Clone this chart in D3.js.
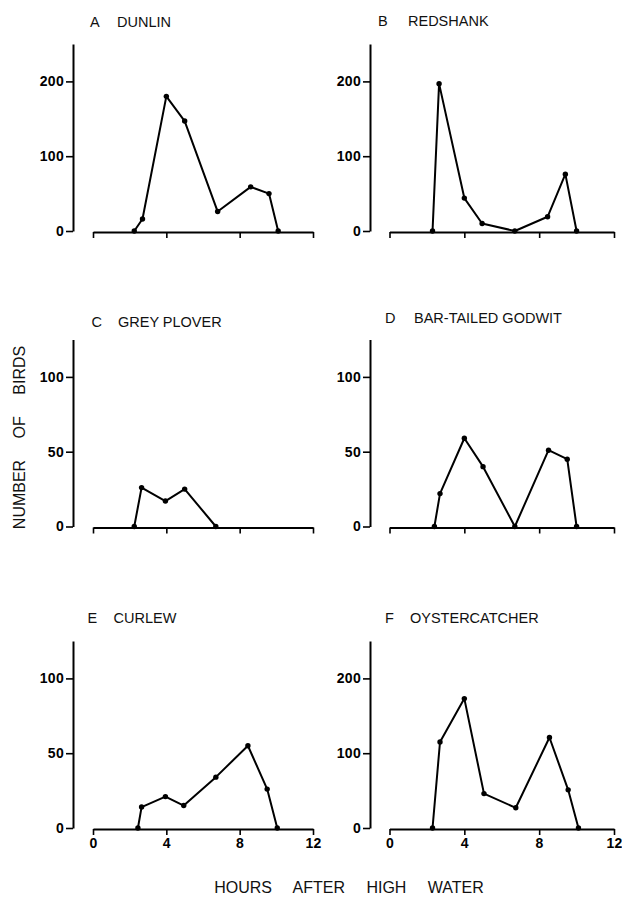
<!DOCTYPE html>
<html>
<head>
<meta charset="utf-8">
<script src="https://cdn.jsdelivr.net/npm/d3@7"></script>
<style>
  body { margin: 0; background: #fff; }
  svg { display: block; font-family: "Liberation Sans", Arial, sans-serif; }
  .title { font-size: 14.5px; fill: #111; }
  .label { font-size: 16px; fill: #111; word-spacing: 17px; }
</style>
</head>
<body>
<div id="chart"></div>
<script>
let width = 622,
    height = 897;

// hours after high water and bird counts
const dunlinHours = [2.25, 2.7, 4, 5, 6.8, 8.6, 9.6, 10.1];
const dunlinCounts = [0, 16, 180, 147, 26, 59, 50, 0];
const redshankHours = [2.3, 2.65, 4, 4.95, 6.7, 8.45, 9.4, 10];
const redshankCounts = [0, 197, 44, 10, 0, 19, 76, 0];
const ploverHours = [2.25, 2.65, 3.95, 5, 6.7];
const ploverCounts = [0, 26, 17, 25, 0];
const godwitHours = [2.4, 2.7, 4, 5, 6.7, 8.5, 9.5, 10];
const godwitCounts = [0, 22, 59, 40, 0, 51, 45, 0];
const curlewHours = [2.45, 2.65, 3.95, 4.95, 6.7, 8.45, 9.5, 10.05];
const curlewCounts = [0, 14, 21, 15, 34, 55, 26, 0];
const oysterHours = [2.3, 2.7, 4, 5.05, 6.75, 8.55, 9.55, 10.1];
const oysterCounts = [0, 115, 173, 46, 27, 121, 51, 0];

const letters = ["A", "B", "C", "D", "E", "F"];
const species = ["DUNLIN", "REDSHANK", "GREY PLOVER", "BAR-TAILED GODWIT", "CURLEW", "OYSTERCATCHER"];
const yMaxes = [250, 250, 125, 125, 125, 250];
const bigTicks = [0, 100, 200];
const smallTicks = [0, 50, 100];
const hourTicks = [0, 4, 8, 12];

const panels = [
  { hours: dunlinHours, counts: dunlinCounts },
  { hours: redshankHours, counts: redshankCounts },
  { hours: ploverHours, counts: ploverCounts },
  { hours: godwitHours, counts: godwitCounts },
  { hours: curlewHours, counts: curlewCounts },
  { hours: oysterHours, counts: oysterCounts }
];

// layout
const cols = [
  { axisX: 73, x0: 93, x1: 313 },
  { axisX: 370, x0: 389.5, x1: 614 }
];
const rowZero = [231, 526.5, 828];
const plotH = 187;
const titlePos = [
  { lx: 90, nx: 117, y: 27 },
  { lx: 378, nx: 408, y: 26 },
  { lx: 91.5, nx: 118, y: 327 },
  { lx: 385, nx: 414, y: 323 },
  { lx: 87.5, nx: 113.5, y: 623 },
  { lx: 385, nx: 410, y: 623 }
];

const svg = d3.select("#chart")
  .append("svg")
  .attr("width", width)
  .attr("height", height)
  .attr("viewBox", [0, 0, width, height]);

// bold, slightly wide tick numbers like the original
function styleAxis(a) {
  a.attr("font-size", 14).attr("font-family", null);
  a.select(".domain").attr("stroke-width", 2);
  a.selectAll(".tick line").attr("stroke-width", 1.6);
  a.selectAll(".tick text")
    .attr("fill", "#000")
    .style("font-size", "14px")
    .style("font-weight", "bold")
    .style("letter-spacing", "0.3px");
}

panels.forEach((p, i) => {
  let col = cols[i % 2],
      row = Math.floor(i / 2),
      zero = rowZero[row];

  let x = d3.scaleLinear()
    .domain([0, 12])
    .range([col.x0, col.x1]);

  let y = d3.scaleLinear()
    .domain([0, yMaxes[i]])
    .range([zero, zero - plotH]);

  let g = svg.append("g").attr("class", "panel");

  g.append("g")
    .attr("transform", `translate(${col.axisX},0)`)
    .call(d3.axisLeft(y)
      .tickValues(yMaxes[i] > 200 ? bigTicks : smallTicks)
      .tickSize(7)
      .tickSizeOuter(0)
      .tickPadding(2))
    .call(styleAxis);

  g.append("g")
    .attr("transform", `translate(0,${zero + 1})`)
    .call(d3.axisBottom(x)
      .tickValues(hourTicks)
      .tickSize(6)
      .tickSizeOuter(0)
      .tickPadding(3)
      .tickFormat(d => row === 2 ? d : ""))
    .call(styleAxis);

  let pts = p.hours.map((h, k) => ({ h: h, c: p.counts[k] }));

  let line = d3.line()
    .x(d => x(d.h))
    .y(d => y(d.c));

  g.append("path")
    .datum(pts)
    .attr("fill", "none")
    .attr("stroke", "#000")
    .attr("stroke-width", 2)
    .attr("stroke-linejoin", "round")
    .attr("d", line);

  g.selectAll("circle")
    .data(pts)
    .join("circle")
    .attr("cx", d => x(d.h))
    .attr("cy", d => y(d.c))
    .attr("r", 2.7)
    .attr("fill", "#000");

  let t = titlePos[i];
  g.append("text")
    .attr("class", "title")
    .attr("x", t.lx)
    .attr("y", t.y)
    .text(letters[i]);
  g.append("text")
    .attr("class", "title")
    .attr("x", t.nx)
    .attr("y", t.y)
    .text(species[i]);
});

svg.append("text")
  .attr("class", "label")
  .attr("text-anchor", "middle")
  .attr("transform", "translate(24.5,437.5) rotate(-90)")
  .text("NUMBER OF BIRDS");

svg.append("text")
  .attr("class", "label")
  .attr("text-anchor", "middle")
  .attr("x", 349)
  .attr("y", 893)
  .text("HOURS AFTER HIGH WATER");
</script>
</body>
</html>
